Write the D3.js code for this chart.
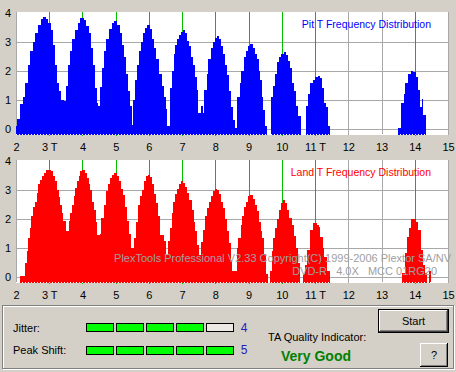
<!DOCTYPE html>
<html>
<head>
<meta charset="utf-8">
<script src="https://cdn.jsdelivr.net/npm/d3@7"></script>
<style>
body { margin:0; background:#d4d0c8; }
svg { display:block; font-family:"Liberation Sans", Arial, sans-serif; }
</style>
</head>
<body>
<script>
// T values on the x axis and their labels
var xTicks = [2,3,4,5,6,7,8,9,10,11,12,13,14,15];
var xLabels = ["2","3 T","4","5","6","7","8","9","10","11 T","12","13","14","15"];
var yTicks = [0,1,2,3,4];
var greenT = [3,4,5,6,7,8,9,10,11,14];

// pit histogram, [T where the step starts, value]
var pitSteps = [
 [2.00,0.1],[2.03,0.35],[2.12,0.85],[2.20,1.1],[2.28,1.6],[2.36,2.2],[2.42,2.7],[2.50,3.0],[2.58,3.3],[2.66,3.6],
 [2.74,3.8],[2.80,3.87],[2.90,3.8],[2.97,3.65],[3.05,3.4],[3.12,2.9],[3.17,2.2],[3.23,1.6],[3.30,1.3],[3.36,1.0],
 [3.44,0.95],[3.50,1.5],[3.56,2.2],[3.62,2.7],[3.70,3.1],[3.78,3.4],[3.86,3.65],[3.92,3.82],[4.04,3.75],[4.12,3.55],
 [4.20,3.3],[4.26,2.8],[4.32,2.2],[4.38,1.4],[4.44,0.9],[4.48,0.8],[4.53,1.45],[4.58,2.1],[4.64,2.7],[4.72,3.1],
 [4.80,3.45],[4.88,3.65],[4.94,3.72],[5.04,3.6],[5.12,3.3],[5.18,2.9],[5.24,2.5],[5.30,1.9],[5.36,1.3],[5.42,0.8],
 [5.48,0.15],[5.52,1.0],[5.58,1.7],[5.64,2.2],[5.70,2.7],[5.76,3.0],[5.82,3.3],[5.88,3.5],[5.94,3.58],[6.04,3.45],
 [6.10,3.1],[6.16,2.8],[6.22,2.4],[6.30,1.9],[6.38,1.5],[6.44,1.1],[6.50,0.7],[6.54,0.1],[6.62,1.4],[6.68,2.0],
 [6.74,2.6],[6.78,2.9],[6.84,3.1],[6.90,3.25],[6.96,3.35],[7.02,3.42],[7.10,3.3],[7.16,3.05],[7.22,2.85],[7.28,2.5],
 [7.32,2.2],[7.38,1.8],[7.44,1.35],[7.49,0.55],[7.56,0.8],[7.62,0.55],[7.66,1.35],[7.74,1.9],[7.78,2.4],[7.86,2.8],
 [7.92,3.0],[7.98,3.15],[8.04,3.22],[8.12,3.1],[8.18,2.85],[8.24,2.6],[8.30,2.2],[8.34,1.85],[8.40,1.3],[8.46,0.77],
 [8.52,0.3],[8.58,0.05],[8.66,1.1],[8.74,1.6],[8.78,2.0],[8.86,2.5],[8.92,2.7],[8.98,2.85],[9.04,2.92],[9.12,2.8],
 [9.18,2.6],[9.24,2.4],[9.30,2.0],[9.34,1.7],[9.40,1.1],[9.44,0.65],[9.50,0.1],[9.56,0],
 [9.66,1.1],[9.74,1.5],[9.80,1.9],[9.86,2.3],[9.92,2.5],[9.98,2.6],[10.06,2.67],[10.14,2.55],[10.20,2.35],[10.26,2.1],
 [10.32,1.6],[10.38,1.3],[10.44,0.8],[10.50,0.45],[10.58,0],
 [10.74,0.8],[10.78,1.2],[10.84,1.6],[10.94,1.7],[11.00,1.78],[11.10,1.82],[11.16,1.75],[11.20,1.4],[11.26,0.9],[11.32,0.77],
 [11.38,0.1],[11.44,0],
 [13.50,0.05],[13.60,0.9],[13.68,1.2],[13.72,1.6],[13.80,1.9],[13.88,2.0],[13.96,1.95],[14.04,1.8],[14.10,1.35],[14.16,0.77],
 [14.22,1.05],[14.26,0.5],[14.34,0]
];

// land histogram
var landSteps = [
 [2.12,0.05],[2.26,0.48],[2.32,0.9],[2.36,1.35],[2.42,1.7],[2.46,2.1],[2.52,2.4],[2.56,2.6],[2.62,2.9],[2.66,3.2],
 [2.72,3.35],[2.78,3.5],[2.84,3.6],[2.90,3.7],[3.04,3.65],[3.10,3.5],[3.16,3.3],[3.22,3.0],[3.28,2.75],[3.32,2.5],
 [3.38,2.2],[3.42,1.93],[3.50,1.6],[3.58,1.93],[3.64,2.2],[3.68,2.5],[3.74,2.8],[3.78,3.07],[3.84,3.3],[3.90,3.5],
 [3.94,3.65],[3.98,3.7],[4.08,3.6],[4.14,3.4],[4.20,3.2],[4.24,3.0],[4.30,2.6],[4.34,2.32],[4.40,1.9],[4.44,1.46],
 [4.52,1.5],[4.56,2.03],[4.64,2.5],[4.70,2.97],[4.76,3.2],[4.84,3.4],[4.90,3.53],[4.94,3.58],[5.04,3.5],[5.10,3.3],
 [5.16,3.05],[5.22,2.84],[5.28,2.4],[5.34,1.93],[5.40,1.5],[5.46,1.0],[5.54,1.35],[5.60,1.9],[5.66,2.5],[5.74,2.8],
 [5.80,3.0],[5.86,3.3],[5.92,3.5],[5.98,3.53],[6.04,3.45],[6.10,3.2],[6.16,2.85],[6.22,2.55],[6.28,2.1],[6.34,1.46],
 [6.46,1.24],[6.52,0.77],[6.58,1.24],[6.62,1.7],[6.68,2.2],[6.72,2.6],[6.78,2.85],[6.84,3.05],[6.90,3.2],[6.96,3.3],
 [7.04,3.25],[7.10,3.1],[7.16,2.9],[7.22,2.67],[7.30,2.3],[7.36,1.9],[7.40,1.58],[7.46,1.1],[7.50,0.77],[7.58,1.2],
 [7.62,1.63],[7.70,2.1],[7.74,2.38],[7.80,2.6],[7.86,2.8],[7.92,2.95],[7.98,3.05],[8.06,3.0],[8.12,2.85],[8.18,2.6],
 [8.24,2.38],[8.28,2.0],[8.34,1.6],[8.40,1.17],[8.46,0.6],[8.50,0.2],[8.64,1.0],[8.68,1.35],[8.76,1.8],[8.80,2.1],
 [8.86,2.4],[8.92,2.6],[8.98,2.78],[9.04,2.84],[9.12,2.7],[9.18,2.5],[9.24,2.27],[9.30,1.9],[9.36,1.6],[9.40,1.35],
 [9.46,0.8],[9.52,0.1],[9.58,0],
 [9.64,0.2],[9.70,0.9],[9.74,1.35],[9.80,1.7],[9.84,2.0],[9.90,2.3],[9.96,2.55],[10.02,2.67],[10.10,2.55],[10.16,2.3],
 [10.22,2.05],[10.30,1.8],[10.36,1.4],[10.44,1.0],[10.50,0.5],[10.56,0],
 [10.64,0.1],[10.70,0.4],[10.76,0.93],[10.86,1.62],[10.94,1.85],[11.06,1.8],[11.12,1.73],[11.16,1.39],[11.24,1.0],[11.28,0.7],
 [11.36,0.2],[11.44,0],
 [13.62,0.13],[13.70,0.82],[13.76,1.39],[13.84,1.7],[13.90,2.0],[14.04,1.9],[14.10,1.62],[14.18,0.93],[14.26,0.4],[14.30,0.13],
 [14.36,0],[14.42,0.2],[14.48,0]
];

var jitterBoxes = [1,1,1,1,0];
var shiftBoxes = [1,1,1,1,1];

var w = 456, h = 372;

var svg = d3.select("body")
	.append("svg")
	.attr("width", w)
	.attr("height", h);

svg.append("rect")
	.attr("width", w)
	.attr("height", h)
	.attr("fill", "#d4d0c8");

var x = d3.scaleLinear().domain([2, 15]).range([16, 448]);

// one histogram panel
function drawPanel(top, steps, color, title, titleX) {
	var y = d3.scaleLinear().domain([0, 4]).range([top + 116, top]);
	var base = top + 122;
	var g = svg.append("g");

	g.append("rect")
		.attr("x", x(2))
		.attr("y", top - 1)
		.attr("width", x(15) - x(2))
		.attr("height", base - top + 1)
		.attr("fill", "#fff");

	// gray grid
	g.selectAll(".hg").data([0,1,2,3]).enter().append("line")
		.attr("x1", x(2)).attr("x2", x(15))
		.attr("y1", function(d){ return Math.round(y(d)) + 0.5; })
		.attr("y2", function(d){ return Math.round(y(d)) + 0.5; })
		.attr("stroke", "#a8a8a8");
	g.selectAll(".vg").data(xTicks).enter().append("line")
		.attr("x1", function(d){ return Math.round(x(d)) + 0.5; })
		.attr("x2", function(d){ return Math.round(x(d)) + 0.5; })
		.attr("y1", top - 1).attr("y2", base)
		.attr("stroke", "#a8a8a8");
	// green T markers
	g.selectAll(".gl").data(greenT).enter().append("line")
		.attr("x1", function(d){ return Math.round(x(d)) + 0.5; })
		.attr("x2", function(d){ return Math.round(x(d)) + 0.5; })
		.attr("y1", top - 1).attr("y2", base + 1)
		.attr("stroke", "#00c000");

	// histogram steps
	var segs = [];
	for (var i = 0; i < steps.length - 1; i++) {
		if (steps[i][1] > 0) segs.push({t0: steps[i][0], t1: steps[i+1][0], v: steps[i][1]});
	}
	g.selectAll(".bar").data(segs).enter().append("rect")
		.attr("x", function(d){ return x(d.t0); })
		.attr("width", function(d){ return x(d.t1) - x(d.t0); })
		.attr("y", function(d){ return y(d.v); })
		.attr("height", function(d){ return base - y(d.v); })
		.attr("fill", color)
		.attr("shape-rendering", "crispEdges");

	// dotted bottom row
	g.append("line")
		.attr("x1", x(2)).attr("x2", x(15))
		.attr("y1", base - 0.5).attr("y2", base - 0.5)
		.attr("stroke", "#fff")
		.attr("stroke-dasharray", "1,2");

	// axes
	var ya = g.append("g")
		.attr("transform", "translate(" + x(2) + ",0)")
		.call(d3.axisLeft(y).tickValues(yTicks).tickSize(0).tickPadding(5).tickFormat(d3.format("d")));
	ya.select(".domain").remove();
	ya.selectAll("text").attr("font-size", 11).attr("font-family", "Liberation Sans").attr("fill", "#000");

	var xa = g.append("g")
		.attr("transform", "translate(0," + base + ")")
		.call(d3.axisBottom(x).tickValues(xTicks).tickSize(0).tickPadding(8)
			.tickFormat(function(d, i){ return xLabels[i]; }));
	xa.select(".domain").remove();
	xa.selectAll("text").attr("font-size", 11).attr("font-family", "Liberation Sans").attr("fill", "#000");

	g.append("text")
		.attr("x", 431)
		.attr("y", top + 11)
		.attr("dy", "0.35em")
		.attr("text-anchor", "end")
		.attr("font-size", 10.5)
		.attr("fill", color)
		.text(title);
	return g;
}

drawPanel(13, pitSteps, "#0000ff", "Pit T Frequency Distribution");
var land = drawPanel(161, landSteps, "#ff0000", "Land T Frequency Distribution");

// watermark
land.append("text")
	.attr("x", 451).attr("y", 258).attr("dy", "0.35em")
	.attr("text-anchor", "end")
	.attr("font-size", 11)
	.attr("fill", "#a0a0a0")
	.text("PlexTools Professional V2.33 Copyright(C) 1999-2006 Plextor SA/NV");
land.append("text")
	.attr("x", 437).attr("y", 271.5).attr("dy", "0.35em")
	.attr("text-anchor", "end")
	.attr("font-size", 11)
	.attr("fill", "#a0a0a0")
	.attr("xml:space", "preserve")
	.text("DVD-R   4.0X   MCC 01RG20");

// lower panel, etched frame
svg.append("rect")
	.attr("x", 3.5).attr("y", 306.5).attr("width", 451).attr("height", 63)
	.attr("fill", "none").attr("stroke", "#fff");
svg.append("rect")
	.attr("x", 2.5).attr("y", 305.5).attr("width", 451).attr("height", 63)
	.attr("fill", "none").attr("stroke", "#808080");

svg.append("text").attr("x", 13).attr("y", 328).attr("dy", "0.35em")
	.attr("font-size", 11).text("Jitter:");
svg.append("text").attr("x", 13).attr("y", 350).attr("dy", "0.35em")
	.attr("font-size", 11).text("Peak Shift:");

function boxes(data, yTop) {
	svg.append("g").selectAll("rect").data(data).enter().append("rect")
		.attr("x", function(d, i){ return 86.5 + i * 30; })
		.attr("y", yTop + 0.5)
		.attr("width", 27)
		.attr("height", 8)
		.attr("fill", function(d){ return d ? "#00ff00" : "#ece9e4"; })
		.attr("stroke", "#000");
}
boxes(jitterBoxes, 323);
boxes(shiftBoxes, 346);

svg.append("text").attr("x", 244).attr("y", 328).attr("dy", "0.35em")
	.attr("text-anchor", "middle").attr("font-size", 12).attr("fill", "#2020c0").text("4");
svg.append("text").attr("x", 244).attr("y", 350).attr("dy", "0.35em")
	.attr("text-anchor", "middle").attr("font-size", 12).attr("fill", "#2020c0").text("5");

svg.append("text").attr("x", 268).attr("y", 337).attr("dy", "0.35em")
	.attr("font-size", 11).text("TA Quality Indicator:");
svg.append("text").attr("x", 281).attr("y", 356).attr("dy", "0.35em")
	.attr("font-size", 14).attr("font-weight", "bold").attr("fill", "#008000").text("Very Good");

// buttons
function button(bx, by, bw, bh, label, outer) {
	var b = svg.append("g");
	b.append("rect").attr("x", bx).attr("y", by).attr("width", bw).attr("height", bh).attr("fill", outer ? "#000" : "#d4d0c8");
	var o = outer ? 1 : 0;
	b.append("rect").attr("x", bx + o).attr("y", by + o).attr("width", bw - 2 * o).attr("height", bh - 2 * o).attr("fill", outer ? "#404040" : "#000");
	b.append("rect").attr("x", bx + o).attr("y", by + o).attr("width", bw - 2 * o - 1).attr("height", bh - 2 * o - 1).attr("fill", "#fff");
	b.append("rect").attr("x", bx + o + 1).attr("y", by + o + 1).attr("width", bw - 2 * o - 2).attr("height", bh - 2 * o - 2).attr("fill", "#808080");
	b.append("rect").attr("x", bx + o + 1).attr("y", by + o + 1).attr("width", bw - 2 * o - 3).attr("height", bh - 2 * o - 3).attr("fill", "#d4d0c8");
	b.append("text").attr("x", bx + bw / 2).attr("y", by + bh / 2).attr("dy", "0.35em")
		.attr("text-anchor", "middle").attr("font-size", 11).text(label);
}
button(378, 309, 71, 24, "Start", true);
button(420, 343, 28, 24, "?", false);
</script>
</body>
</html>
